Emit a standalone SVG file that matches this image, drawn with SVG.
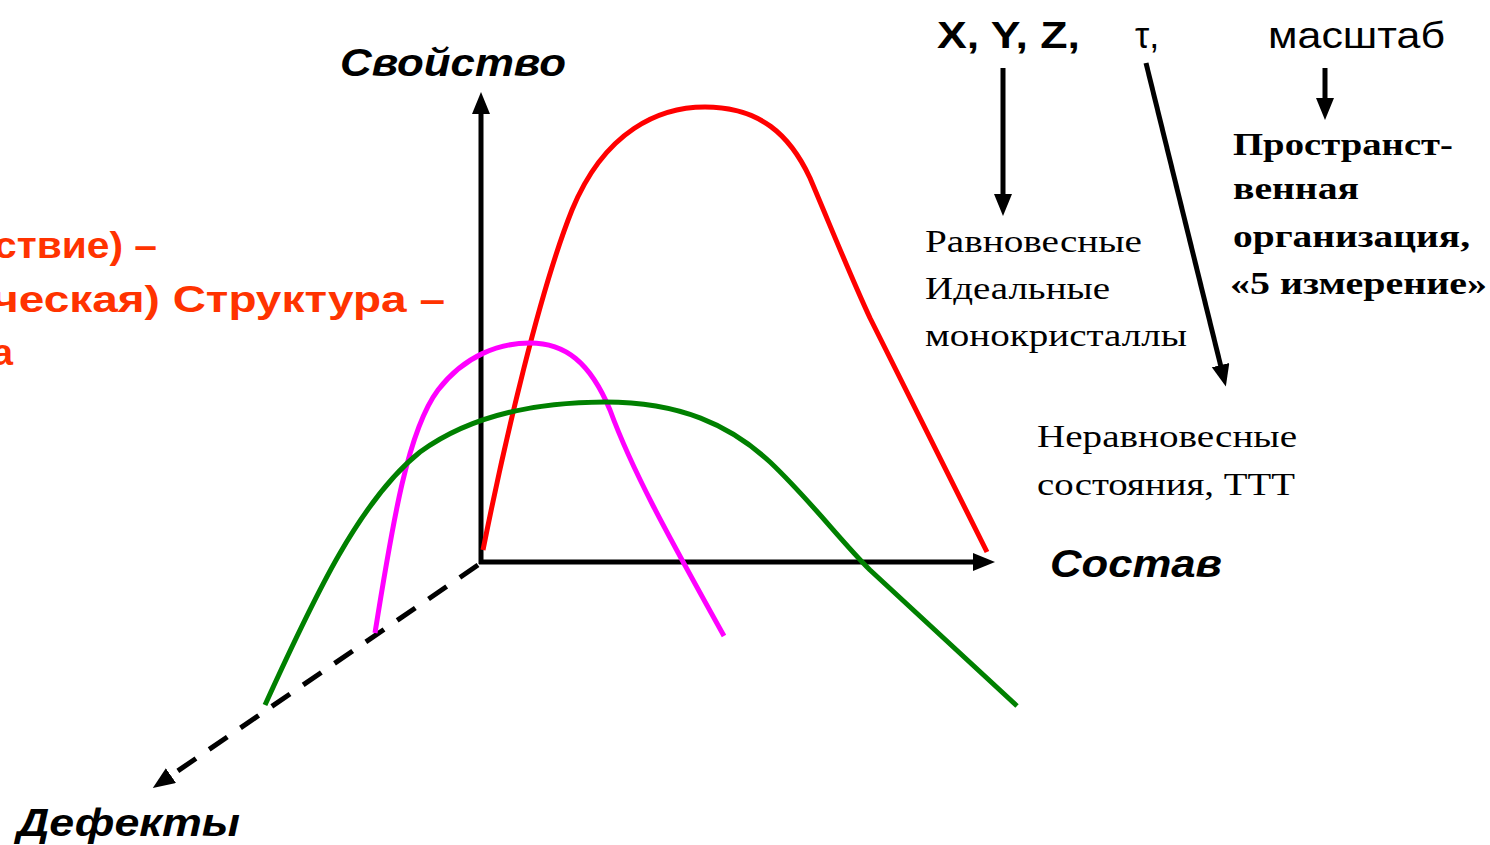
<svg xmlns="http://www.w3.org/2000/svg" width="1490" height="845" viewBox="0 0 1490 845">
<style>
.ax{stroke:#000;stroke-width:5;fill:none}
.dash{stroke:#000;stroke-width:5;fill:none;stroke-dasharray:22 16}
.cur{fill:none;stroke-width:5;stroke-linecap:butt;stroke-linejoin:round}
.ital{font-family:"Liberation Sans",Arial,sans-serif;font-weight:bold;font-style:italic;font-size:38px;fill:#000}
.sans{font-family:"Liberation Sans",Arial,sans-serif;font-size:36px;fill:#000}
.ser{font-family:"Liberation Serif","Times New Roman",serif;font-size:32px;fill:#000}
.serb{font-family:"Liberation Serif","Times New Roman",serif;font-size:32px;font-weight:bold;fill:#000}
.org{font-family:"Liberation Sans",Arial,sans-serif;font-size:36px;font-weight:bold;fill:#FF3300}
</style>
<defs>
<marker id="ah" markerUnits="userSpaceOnUse" markerWidth="24" markerHeight="20" refX="6" refY="9" orient="auto">
<path d="M0,0 L22,9 L0,18 Z" fill="#000"/>
</marker>
</defs>
<rect width="1490" height="845" fill="#fff"/>

<g id="connectors">
<line class="ax" x1="481" y1="564" x2="481" y2="108" marker-end="url(#ah)"/>
<line class="ax" x1="479" y1="562" x2="979" y2="562" marker-end="url(#ah)"/>
<line class="dash" x1="478" y1="565" x2="166" y2="779" marker-end="url(#ah)"/>
<line class="ax" x1="1003" y1="68" x2="1003" y2="200" marker-end="url(#ah)"/>
<line class="ax" x1="1146" y1="63" x2="1222" y2="371" marker-end="url(#ah)"/>
<line class="ax" x1="1325" y1="68" x2="1325" y2="104" marker-end="url(#ah)"/>
</g>

<g id="curve-red">
<path class="cur" stroke="#FF0000" d="M483,550 C505,440 540,290 572,210 C605,130 660,107 705,107 C760,107 790,135 810,178 C830,225 850,275 870,318 L987,552"/>
</g>
<g id="curve-magenta">
<path class="cur" stroke="#FF00FF" d="M375,633 C393,520 408,430 438,390 C465,355 500,343 530,343 C565,343 590,362 610,410 C632,470 665,530 724,636"/>
</g>
<g id="curve-green">
<path class="cur" stroke="#008000" d="M265,705 C315,595 360,500 420,452 C475,412 545,402 605,402 C680,402 730,425 770,462 C810,500 840,540 870,570 L1017,706"/>
</g>

<g id="label-svoystvo"><text class="ital" x="340" y="76" textLength="226" lengthAdjust="spacingAndGlyphs">Свойство</text></g>
<g id="label-sostav"><text class="ital" x="1050" y="577" textLength="172" lengthAdjust="spacingAndGlyphs">Состав</text></g>
<g id="label-defekty"><text class="ital" x="17" y="836" textLength="223" lengthAdjust="spacingAndGlyphs">Дефекты</text></g>

<g id="label-xyz"><text class="sans" x="937" y="48" font-weight="bold" textLength="143" lengthAdjust="spacingAndGlyphs">X, Y, Z,</text></g>
<g id="label-tau"><text class="sans" x="1135" y="48" font-size="32">τ,</text></g>
<g id="label-masshtab"><text class="sans" x="1268" y="48" textLength="177" lengthAdjust="spacingAndGlyphs">масштаб</text></g>

<g id="label-ravnovesnye">
<text class="ser" x="925" y="252" textLength="217" lengthAdjust="spacingAndGlyphs">Равновесные</text>
<text class="ser" x="925" y="299" textLength="185" lengthAdjust="spacingAndGlyphs">Идеальные</text>
<text class="ser" x="925" y="346" textLength="262" lengthAdjust="spacingAndGlyphs">монокристаллы</text>
</g>
<g id="label-neravnovesnye">
<text class="ser" x="1037" y="447" textLength="260" lengthAdjust="spacingAndGlyphs">Неравновесные</text>
<text class="ser" x="1037" y="495" textLength="258" lengthAdjust="spacingAndGlyphs">состояния, ТТТ</text>
</g>
<g id="label-prostranstv">
<text class="serb" x="1233" y="155" textLength="220" lengthAdjust="spacingAndGlyphs">Пространст-</text>
<text class="serb" x="1233" y="199" textLength="126" lengthAdjust="spacingAndGlyphs">венная</text>
<text class="serb" x="1233" y="247" textLength="237" lengthAdjust="spacingAndGlyphs">организация,</text>
<text class="serb" x="1230" y="294" textLength="257" lengthAdjust="spacingAndGlyphs">«5 измерение»</text>
</g>

<g id="label-orange">
<text class="org" x="-6" y="258" textLength="163" lengthAdjust="spacingAndGlyphs">ствие) –</text>
<text class="org" x="-8" y="312" textLength="453" lengthAdjust="spacingAndGlyphs">ческая) Структура –</text>
<text class="org" x="-8" y="365" textLength="21" lengthAdjust="spacingAndGlyphs">а</text>
</g>
</svg>
